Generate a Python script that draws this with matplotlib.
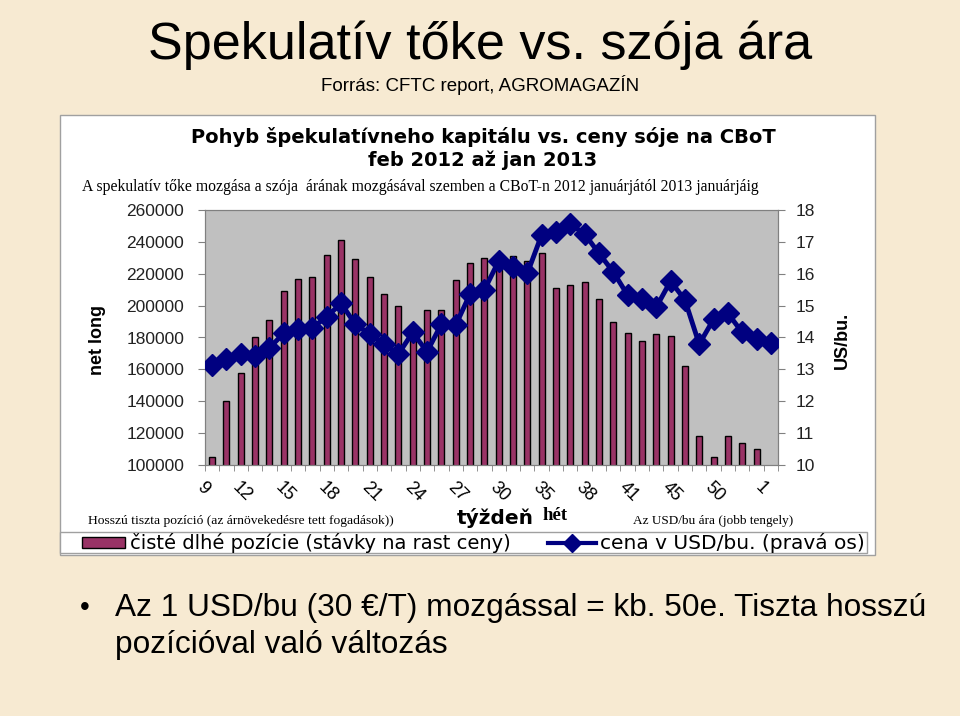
import matplotlib
matplotlib.use('Agg')
import matplotlib.pyplot as plt
import numpy as np
from matplotlib.patches import Rectangle
from matplotlib.lines import Line2D

# weeks 2012/02 - 2013/01 (only every third one is labelled on the chart)
weeks = [9, 10, 11, 12, 13, 14, 15, 16, 17, 18, 19, 20, 21, 22, 23, 24, 25, 26, 27, 28,
         29, 30, 32, 34, 35, 36, 37, 38, 39, 40, 41, 43, 44, 45, 47, 48, 50, 51, 52, 1]
# net long positions (left axis)
net_long = [105000, 140000, 158000, 180000, 191000, 209000, 217000, 218000, 232000, 241000,
            229000, 218000, 207000, 200000, 183000, 197000, 197500, 216000, 227000, 230000,
            226000, 231000, 228000, 233000, 211000, 213000, 215000, 204000, 190000, 183000,
            178000, 182000, 181000, 162000, 118000, 105000, 118000, 114000, 110000, 0]
# price USD/bu (right axis)
price = [13.14, 13.32, 13.48, 13.43, 13.68, 14.13, 14.27, 14.31, 14.65, 15.07,
         14.41, 14.11, 13.80, 13.48, 14.16, 13.55, 14.42, 14.39, 15.36, 15.49,
         16.40, 16.22, 16.01, 17.22, 17.30, 17.56, 17.25, 16.64, 16.06, 15.33,
         15.20, 14.95, 15.77, 15.18, 13.79, 14.57, 14.76, 14.16, 13.94, 13.84]
left_ticks = [100000, 120000, 140000, 160000, 180000, 200000, 220000, 240000, 260000]
right_ticks = [10, 11, 12, 13, 14, 15, 16, 17, 18]

W, H = 960, 716
bg = '#F7EAD2'
bar_col = '#993366'
line_col = '#000080'
sans = ['Liberation Sans', 'DejaVu Sans']

fig = plt.figure(figsize=(9.6, 7.16), dpi=100, facecolor=bg)

def fx(px):
    return px / W

def fy(py):
    return 1 - py / H

# white chart frame
fig.patches.append(Rectangle((fx(60), fy(555)), fx(875) - fx(60), fy(115) - fy(555),
                             transform=fig.transFigure, facecolor='white',
                             edgecolor='#A0A0A0', lw=1, zorder=0))
# legend frame
fig.patches.append(Rectangle((fx(60), fy(553)), fx(867) - fx(60), fy(532) - fy(553),
                             transform=fig.transFigure, facecolor='white',
                             edgecolor='#A0A0A0', lw=1, zorder=1))

ax = fig.add_axes([fx(205), fy(465), fx(778) - fx(205), fy(210) - fy(465)])
ax.set_zorder(3)
ax.set_facecolor('#C0C0C0')
x = np.arange(len(weeks))
ax.bar(x, net_long, width=0.42, color=bar_col, edgecolor='black', lw=1, zorder=2)
ax.set_ylim(100000, 260000)
ax.set_xlim(-0.5, len(weeks) - 0.5)
ax.set_yticks(left_ticks)
ax.set_yticklabels([str(v) for v in left_ticks], fontsize=12.5, family=sans, color='#222222')
ax.set_xticks(x[::3])
ax.set_xticklabels([str(weeks[i]) for i in x[::3]], rotation=-45, fontsize=13,
                   family=sans, ha='right', va='top')
ax.set_xticks(np.arange(-0.5, len(weeks), 1), minor=True)
ax.tick_params(axis='x', which='major', length=0, pad=10)
ax.tick_params(axis='x', which='minor', length=4, color='#808080')
ax.tick_params(axis='y', length=5, color='#808080', pad=10)
for s in ax.spines.values():
    s.set_color('#808080')
    s.set_linewidth(0.8)

ax2 = ax.twinx()
ax2.set_zorder(4)
ax2.plot(x, price, color=line_col, lw=3.5, marker='D', markersize=11, zorder=3)
ax2.set_ylim(10, 18)
ax2.set_yticks(right_ticks)
ax2.set_yticklabels([str(v) for v in right_ticks], fontsize=12.5, family=sans, color='#222222')
ax2.tick_params(axis='y', length=5, color='#808080', pad=8)
for s in ax2.spines.values():
    s.set_color('#808080')
    s.set_linewidth(0.8)

# axis titles
fig.text(fx(97), fy(340), 'net long', rotation=90, ha='center', va='center',
         fontsize=13, weight='bold', family=sans)
fig.text(fx(842), fy(340), 'US/bu.', rotation=90, ha='center', va='center',
         fontsize=13, weight='bold', family=sans)

# headings
fig.text(0.5, fy(45), 'Spekulatív tőke vs. szója ára', ha='center', va='center',
         fontsize=37.5, family=sans)
fig.text(fx(480), fy(85), 'Forrás: CFTC report, AGROMAGAZÍN', ha='center', va='center',
         fontsize=13.5, family=sans)
fig.text(fx(483), fy(137), 'Pohyb špekulatívneho kapitálu vs. ceny sóje na CBoT',
         ha='center', va='center', fontsize=14, weight='bold', family='DejaVu Sans')
fig.text(fx(483), fy(160), 'feb 2012 až jan 2013', ha='center', va='center',
         fontsize=14, weight='bold', family='DejaVu Sans')
fig.text(fx(82), fy(187), 'A spekulatív tőke mozgása a szója  árának mozgásával szemben a CBoT-n 2012 januárjától 2013 januárjáig',
         ha='left', va='center', fontsize=11.3, family='Liberation Serif')

# captions below the axis
fig.text(fx(88), fy(521), 'Hosszú tiszta pozíció (az árnövekedésre tett fogadások))',
         ha='left', va='center', fontsize=9.7, family='Liberation Serif')
fig.text(fx(495), fy(518), 'týždeň', ha='center', va='center', fontsize=14.5,
         weight='bold', family='DejaVu Sans')
fig.text(fx(555), fy(516), 'hét', ha='center', va='center', fontsize=13.5,
         weight='bold', family='Liberation Serif')
fig.text(fx(713), fy(521), 'Az USD/bu ára (jobb tengely)', ha='center', va='center',
         fontsize=9.5, family='Liberation Serif')

# legend
fig.patches.append(Rectangle((fx(82), fy(548)), fx(125) - fx(82), fy(537) - fy(548),
                             transform=fig.transFigure, facecolor=bar_col,
                             edgecolor='black', lw=1, zorder=2))
fig.text(fx(130), fy(543), 'čisté dlhé pozície (stávky na rast ceny)', ha='left',
         va='center', fontsize=14, family='DejaVu Sans')
fig.lines.append(Line2D([fx(548), fx(596)], [fy(543), fy(543)], transform=fig.transFigure,
                        color=line_col, lw=3, zorder=2))
fig.lines.append(Line2D([fx(572)], [fy(543)], transform=fig.transFigure,
                        color=line_col, marker='D', markersize=9, zorder=3))
fig.text(fx(600), fy(543), 'cena v USD/bu. (pravá os)', ha='left', va='center',
         fontsize=14.5, family='DejaVu Sans')

# bullet text
fig.text(fx(80), fy(608), '•', ha='left', va='center', fontsize=20, family=sans)
fig.text(fx(115), fy(608), 'Az 1 USD/bu (30 €/T) mozgással = kb. 50e. Tiszta hosszú',
         ha='left', va='center', fontsize=22.8, family=sans)
fig.text(fx(115), fy(645), 'pozícióval való változás', ha='left', va='center',
         fontsize=22.8, family=sans)

fig.savefig('out.png', dpi=100, facecolor=bg)
